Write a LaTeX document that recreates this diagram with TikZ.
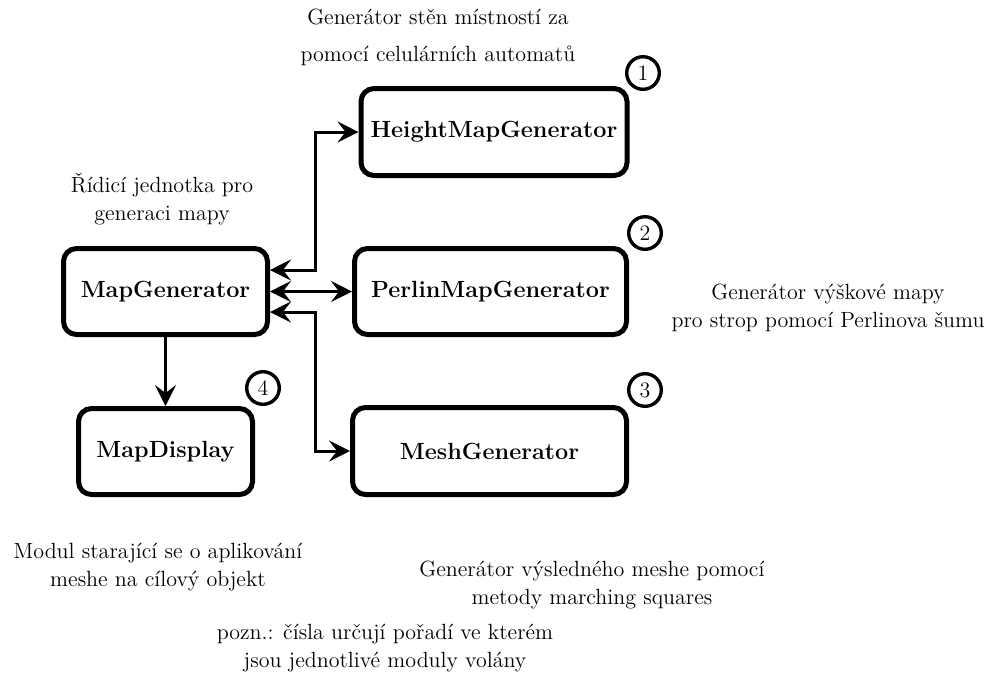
\documentclass[tikz,border=0pt]{standalone}
\usetikzlibrary{arrows.meta}
\begin{document}
\begin{tikzpicture}[x=0.5pt,y=-0.5pt,
  box/.style={draw,line width=2.5pt,rounded corners=6.5pt,font=\fontsize{11.7}{13}\selectfont\bfseries,inner sep=0pt},
  num/.style={draw,circle,line width=1.7pt,minimum size=16.3pt,inner sep=0pt,font=\fontsize{11}{13}\selectfont},
  note/.style={align=center,font=\fontsize{11}{14}\selectfont},
  tip/.style={Stealth[length=10.5pt,width=10.5pt,inset=4pt]},
  arr/.style={line width=1.5pt,-{Stealth[length=10.5pt,width=10.5pt,inset=4pt]}},
  biarr/.style={line width=1.5pt,{Stealth[length=10.5pt,width=10.5pt,inset=4pt]}-{Stealth[length=10.5pt,width=10.5pt,inset=4pt]}}]
\useasboundingbox (0,0) rectangle (991,677);
\node[box,minimum width=102pt,minimum height=43pt] (MG) at (165.5,291.5) {MapGenerator};
\node[box,minimum width=133pt,minimum height=43.5pt] (HM) at (494,132) {HeightMapGenerator};
\node[box,minimum width=136pt,minimum height=43pt] (PM) at (490.5,291.5) {PerlinMapGenerator};
\node[box,minimum width=137pt,minimum height=43.5pt] (MeG) at (489.5,451) {MeshGenerator};
\node[box,minimum width=87pt,minimum height=43pt] (MD) at (165.5,451.5) {MapDisplay};
\node[num] (n1) at (643,73) {1};
\node[num] (n2) at (645,233) {2};
\node[num] (n3) at (645,390) {3};
\node[num] (n4) at (263,388) {4};
\coordinate (j) at (315,0);
\draw[biarr] ([yshift=10.75pt]MG.east) -- ([yshift=10.75pt]MG.east -| j) |- (HM.west);
\draw[biarr] (MG.east) -- (PM.west);
\draw[biarr] ([yshift=-10.25pt]MG.east) -- ([yshift=-10.25pt]MG.east -| j) |- (MeG.west);
\draw[arr] (MG.south) -- (MD.north);
\node[note,font=\fontsize{11}{18.5}\selectfont] (t1) at (438,37) {Generátor stěn místností za\\pomocí celulárních automatů};
\node[note] (t2) at (162,199.5) {Řídicí jednotka pro\\generaci mapy};
\node[note] (t3) at (828,308) {Generátor výškové mapy\\pro strop pomocí Perlinova šumu};
\node[note] (t4) at (158,567.5) {Modul starající se o aplikování\\meshe na cílový objekt};
\node[note] (t5) at (592,585) {Generátor výsledného meshe pomocí\\metody marching squares};
\node[note] (t6) at (385,648) {pozn.: čísla určují pořadí ve kterém\\jsou jednotlivé moduly volány};
\end{tikzpicture}
\end{document}
